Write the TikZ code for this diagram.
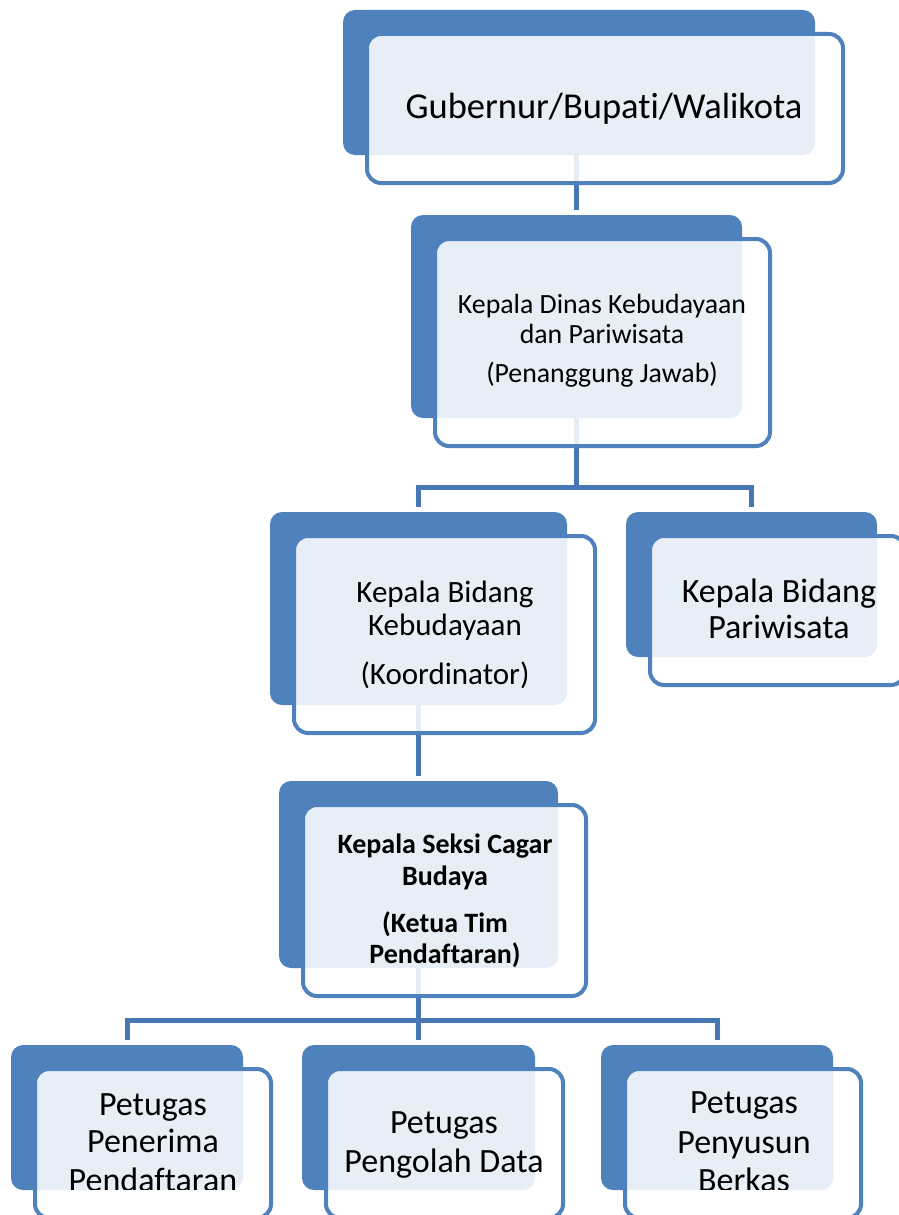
\documentclass[tikz,border=0pt]{standalone}
\usepackage{fontspec}
\setmainfont{Carlito}[Ligatures=NoCommon]
\definecolor{acc}{HTML}{4F81BD}
\definecolor{connc}{HTML}{4878B4}
\pgfdeclarelayer{bg}
\pgfsetlayers{bg,main}
\tikzset{
  back/.style={fill=acc, draw=none, rounded corners=12pt, inner sep=0pt, outer sep=0pt, anchor=north west},
  front/.style={fill=white, fill opacity=0.87, draw=acc, line width=4pt, rounded corners=14pt, inner sep=0pt, outer sep=0pt, anchor=north west},
  conn/.style={draw=connc, line width=5pt, shorten >=5pt},
  lbl/.style={anchor=base, inner sep=0pt, outer sep=0pt, text=black},
  fs/.style={font=\fontsize{#1}{#1}\selectfont},
  fsb/.style={font=\fontsize{#1}{#1}\selectfont\bfseries},
}
% #1 name, #2 x1, #3 y1, #4 x2, #5 y2 (pixel coordinates of the blue card)
\newcommand\orgbox[5]{%
  \node[back, minimum width={(#4-#2)*1pt}, minimum height={(#5-#3)*1pt}] (#1) at (#2,#3) {};
  \node[front, minimum width={(#4-#2+4)*1pt}, minimum height={(#5-#3+4)*1pt}] (#1f) at ({#2+24},{#3+24}) {};
}
\newcommand\txtline[5]{\node[lbl,#5] (#1) at (#2,#3) {#4};}
\begin{document}
\begin{tikzpicture}[x=1pt,y=-1pt]
\useasboundingbox (0,0) rectangle (899,1215);

\orgbox{b1}{343}{10}{815}{155}
\orgbox{b2}{411}{215}{742}{418}
\orgbox{b3}{270}{512}{567}{705}
\orgbox{b4}{626}{512}{877}{657}
\orgbox{b5}{279}{781}{558}{968}
\orgbox{b6}{11}{1045}{243}{1190}
\orgbox{b7}{302}{1045}{535}{1190}
\orgbox{b8}{601}{1045}{833}{1190}

\coordinate (bus2) at (0,487);
\coordinate (bus4) at (0,1020);

\begin{pgfonlayer}{bg}
  \draw[conn] (b1.center -| b2.north) -- (b2.north);
  \draw[conn] (b2.center) |- (bus2 -| b3.north) -- (b3.north);
  \draw[conn] (b2.center) |- (bus2 -| b4.north) -- (b4.north);
  \draw[conn] (b3.center) -- (b5.north);
  \draw[conn] (b5.center) |- (bus4 -| b6.north) -- (b6.north);
  \draw[conn] (b5.center) -- (b7.north);
  \draw[conn] (b5.center) |- (bus4 -| b8.north) -- (b8.north);
\end{pgfonlayer}

\txtline{t1}{604}{118}{Gubernur/Bupati/Walikota}{fs=36.5}

\txtline{t2a}{602}{313}{Kepala Dinas Kebudayaan}{fs=27.8}
\txtline{t2b}{602}{343}{dan Pariwisata}{fs=27.8}
\txtline{t2c}{602}{382}{(Penanggung Jawab)}{fs=27.8}

\txtline{t3a}{445}{602}{Kepala Bidang}{fs=31}
\txtline{t3b}{445}{635}{Kebudayaan}{fs=31}
\txtline{t3c}{445}{684}{(Koordinator)}{fs=31}

\txtline{t4a}{779}{602}{Kepala Bidang}{fs=34}
\txtline{t4b}{779}{638}{Pariwisata}{fs=34}

\txtline{t5a}{445}{853}{Kepala Seksi Cagar}{fsb=28}
\txtline{t5b}{445}{885}{Budaya}{fsb=28}
\txtline{t5c}{445}{932}{(Ketua Tim}{fsb=28}
\txtline{t5d}{445}{963}{Pendaftaran)}{fsb=28}

\begin{scope}
  \clip (0,1040) rectangle (899,1189);
  \txtline{t6a}{153}{1115}{Petugas}{fs=34}
  \txtline{t6b}{153}{1152}{Penerima}{fs=34}
  \txtline{t6c}{153}{1191}{Pendaftaran}{fs=34}
  \txtline{t7a}{444}{1133}{Petugas}{fs=34}
  \txtline{t7b}{444}{1172}{Pengolah Data}{fs=34}
  \txtline{t8a}{744}{1113}{Petugas}{fs=34}
  \txtline{t8b}{744}{1153}{Penyusun}{fs=34}
  \txtline{t8c}{744}{1191}{Berkas}{fs=34}
\end{scope}
\end{tikzpicture}
\end{document}
